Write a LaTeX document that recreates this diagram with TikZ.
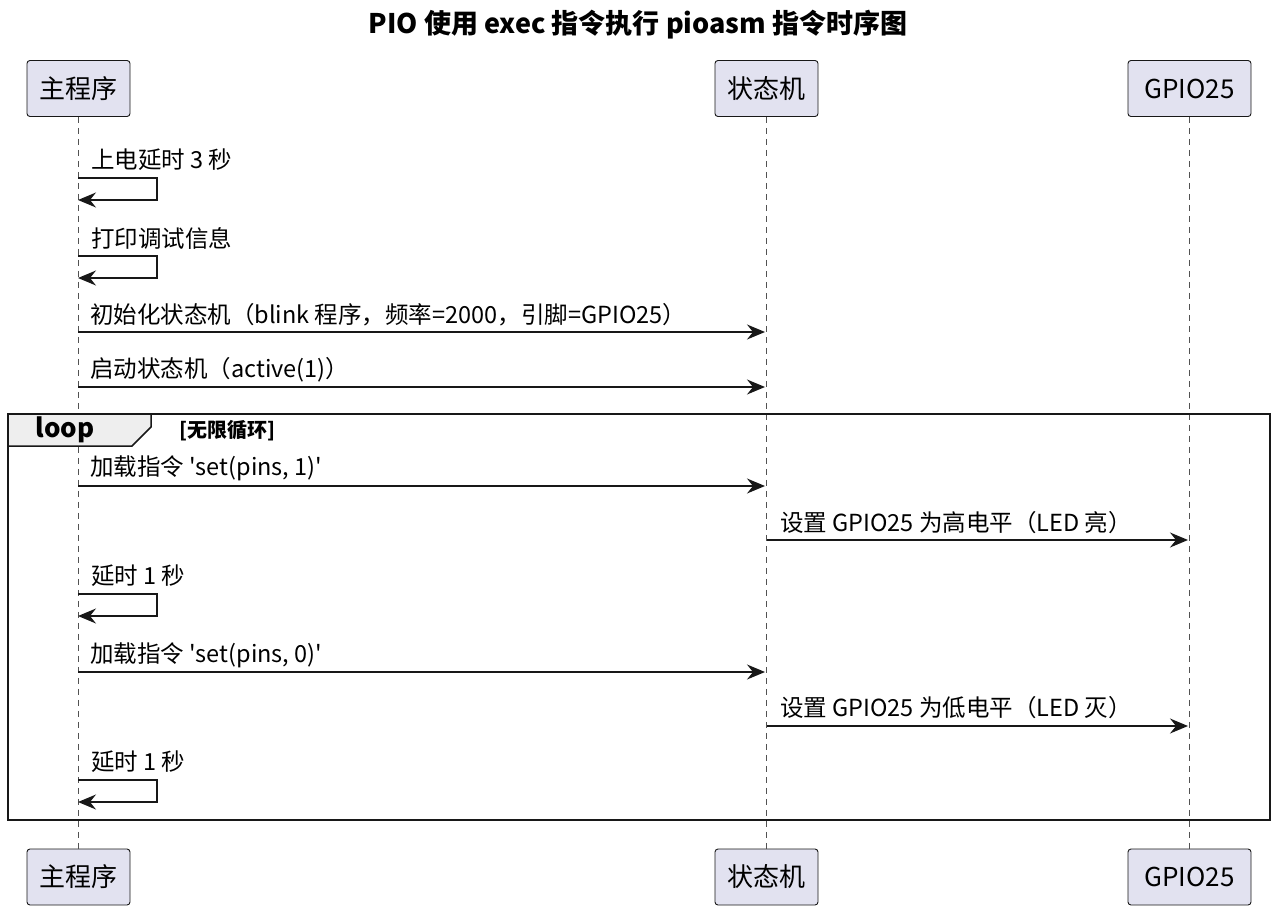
\documentclass[tikz,border=0pt]{standalone}
\usepackage{fontspec}
\setmainfont{Noto Sans CJK SC}
\usetikzlibrary{arrows.meta}

\definecolor{boxfill}{HTML}{E2E2F0}
\definecolor{tabfill}{HTML}{EEEEEE}
\definecolor{ink}{HTML}{181818}

\tikzset{
  actor/.style={draw=ink, fill=boxfill, rounded corners=3pt, minimum height=56pt, inner sep=0pt, line width=0.9pt, font=\fontsize{26}{30}\selectfont},
  msg/.style={-{Stealth[length=18pt,width=15pt,inset=6pt]}, line width=1.4pt, draw=ink},
  lbl/.style={anchor=west, inner sep=0pt, font=\fontsize{23.5}{27}\selectfont},
  life/.style={ink!75, line width=1pt, dash pattern=on 6pt off 5pt}
}

\begin{document}
\begin{tikzpicture}[x=1pt,y=-1pt]
\useasboundingbox (0,0) rectangle (1280,913);
\node[font=\bfseries\fontsize{27}{30}\selectfont] (title) at (638,25) {PIO 使用 exec 指令执行 pioasm 指令时序图};

% participants, top and bottom
\node[actor, minimum width=103pt] (main) at (78.5,88.5) {主程序};
\node[actor, minimum width=103pt] (sm) at (766.5,88.5) {状态机};
\node[actor, minimum width=123pt] (gpio) at (1189.5,88.5) {GPIO25};
\node[actor, minimum width=103pt] (main2) at (78.5,877) {主程序};
\node[actor, minimum width=103pt] (sm2) at (766.5,877) {状态机};
\node[actor, minimum width=123pt] (gpio2) at (1189.5,877) {GPIO25};

\draw[life] (main) -- (main2);
\draw[life] (sm) -- (sm2);
\draw[life] (gpio) -- (gpio2);

% loop frame
\draw[ink, fill=tabfill, line width=1.5pt] (8,414) -- (151,414) -- (151,427) -- (132,446) -- (8,446);
\draw[ink, line width=2.5pt] (8,414) rectangle (1270,820);
\node[font=\bfseries\fontsize{26}{28}\selectfont] (loop) at (65,430) {loop};
\node[anchor=west, inner sep=0pt, font=\bfseries\fontsize{20}{22}\selectfont] (guard) at (179,431) {[无限循环]};

% self messages
\foreach \y/\t in {178/上电延时 3 秒, 256/打印调试信息, 594/延时 1 秒, 780/延时 1 秒}{
  \node[lbl] at (91,\y-18) {\t};
  \draw[msg] (78,\y) -- (157,\y) -- (157,\y+22) -- (78,\y+22);
}

% messages main -> sm
\node[lbl] (m1) at (90,315) {初始化状态机（blink 程序，频率=2000，引脚=GPIO25）};
\draw[msg] (78,332) -- (765,332);
\node[lbl] (m2) at (90,370) {启动状态机（active(1)）};
\draw[msg] (78,387) -- (765,387);
\node[lbl] (m3) at (90,468) {加载指令 \textquotesingle set(pins, 1)\textquotesingle};
\draw[msg] (78,486) -- (765,486);
\node[lbl] (m5) at (90,655) {加载指令 \textquotesingle set(pins, 0)\textquotesingle};
\draw[msg] (78,672) -- (765,672);

% messages sm -> gpio
\node[lbl] (m4) at (780,523) {设置 GPIO25 为高电平（LED 亮）};
\draw[msg] (767,540) -- (1188,540);
\node[lbl] (m6) at (780,708) {设置 GPIO25 为低电平（LED 灭）};
\draw[msg] (767,726) -- (1188,726);
\end{tikzpicture}
\end{document}
